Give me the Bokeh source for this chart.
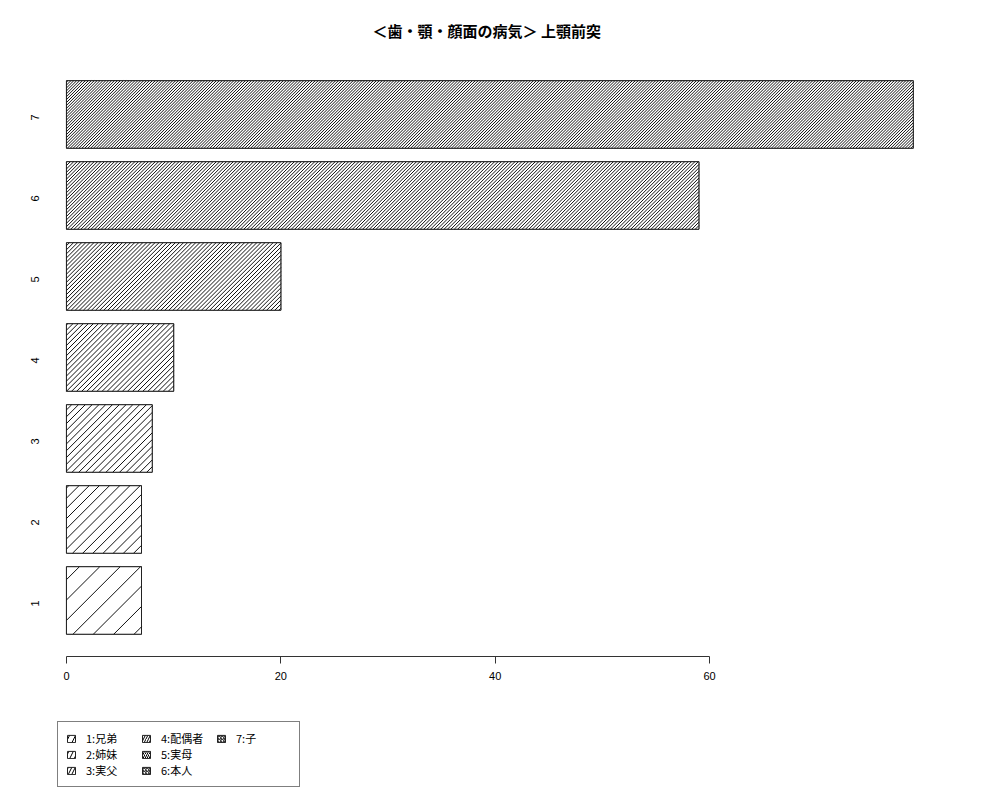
import math
from bokeh.plotting import figure
from bokeh.models import Range1d, FixedTicker, Legend, LegendItem
from bokeh.embed import file_html
from bokeh.resources import INLINE

# ---- data ----
categories = ["1", "2", "3", "4", "5", "6", "7"]
legend_labels = ["1:兄弟", "2:姉妹", "3:実父", "4:配偶者", "5:実母", "6:本人", "7:子"]
values = [7, 7, 8, 10, 20, 59, 79]
x_ticks = [0, 20, 40, 60]
title_text = "＜歯・顎・顔面の病気＞ 上顎前突"

# ---- style ----
densities = [5, 10, 15, 20, 25, 30, 35]          # hatch lines per inch (R "density")
legend_hatch_scales = [12, 9, 7, 5, 4, 3, 3]
positions = list(range(1, len(categories) + 1))
bar_h = 1 / 1.2
axis_y = 0.3086   # where the value axis sits (bottom of the bar area)

W, H = 992, 792
B_LEFT, B_RIGHT, B_TOP, B_BOTTOM = 56, 46, 58, 0
X0, X1 = -0.93, 82.1
Y0, Y1 = -1.3707, 7.691

p = figure(width=W, height=H, output_backend="svg", toolbar_location=None,
           x_range=Range1d(X0, X1), y_range=Range1d(Y0, Y1),
           min_border_left=B_LEFT, min_border_right=B_RIGHT,
           min_border_top=B_TOP, min_border_bottom=B_BOTTOM)

p.outline_line_color = None
p.xgrid.visible = False
p.ygrid.visible = False
p.background_fill_color = "white"
p.border_fill_color = "white"

# pixels per data unit (for 45° hatching in screen space)
sx = (W - B_LEFT - B_RIGHT) / (X1 - X0)
sy = (H - B_TOP - B_BOTTOM) / (Y1 - Y0)

# legend keys: hatched copies of each bar (covered by the bars drawn on top)
items = []
for pos, val, lab, hs in zip(positions, values, legend_labels, legend_hatch_scales):
    key = p.hbar(y=[pos], left=0, right=[val], height=bar_h,
                 fill_color="white", line_color="#222222", line_width=1,
                 hatch_pattern="/", hatch_color="black", hatch_weight=1, hatch_scale=hs)
    items.append(LegendItem(label=lab, renderers=[key]))

bars = p.hbar(y=positions, left=0, right=values, height=bar_h,
              fill_color="white", line_color="#222222", line_width=1)

# hatch lines computed from each bar's extent
hx0, hy0, hx1, hy1 = [], [], [], []
for pos, val, d in zip(positions, values, densities):
    hs = 72.0 / d * math.sqrt(2)          # horizontal spacing, px
    b, t = pos - bar_h / 2, pos + bar_h / 2
    cmin, cmax = -t * sy, val * sx - b * sy
    for k in range(math.ceil(cmin / hs), math.floor(cmax / hs) + 1):
        c = k * hs
        xa_ = max(0.0, (c + b * sy) / sx)
        xb_ = min(float(val), (c + t * sy) / sx)
        if xb_ > xa_:
            hx0.append(xa_); hy0.append((xa_ * sx - c) / sy)
            hx1.append(xb_); hy1.append((xb_ * sx - c) / sy)
p.segment(x0=hx0, y0=hy0, x1=hx1, y1=hy1, line_color="#111111", line_width=1)

legend = Legend(items=items, location=(1, 5), orientation="vertical", nrows=3,
                glyph_width=10, glyph_height=9, label_standoff=10, label_width=55,
                label_height=12, spacing=0, padding=8, margin=0,
                label_text_font="Noto Sans CJK JP", label_text_font_size="11px",
                label_text_color="black",
                border_line_color="black", border_line_width=1,
                background_fill_color="white", background_fill_alpha=1.0)
p.add_layout(legend, "center")

# x axis
xa = p.xaxis[0]
xa.fixed_location = axis_y
xa.ticker = FixedTicker(ticks=x_ticks)
xa.bounds = (x_ticks[0], x_ticks[-1])
xa.minor_tick_line_color = None
xa.major_tick_in = 0
xa.major_tick_out = 7
xa.axis_line_color = "#333333"
xa.major_tick_line_color = "#333333"
xa.major_label_standoff = 9
xa.major_label_text_font = "Liberation Sans"
xa.major_label_text_font_size = "11px"
xa.major_label_text_color = "black"

# y axis
ya = p.yaxis[0]
ya.ticker = FixedTicker(ticks=positions)
ya.major_label_overrides = {pos: c for pos, c in zip(positions, categories)}
ya.axis_line_color = None
ya.major_tick_line_color = None
ya.minor_tick_line_color = None
ya.major_tick_out = 0
ya.major_tick_in = 0
ya.major_label_orientation = math.pi / 2
ya.major_label_standoff = 21
ya.major_label_text_font = "Liberation Sans"
ya.major_label_text_font_size = "11px"
ya.major_label_text_color = "black"

# title
p.title.text = title_text
p.title.align = "left"
p.title.text_font = "Noto Sans CJK JP"
p.title.text_font_style = "bold"
p.title.text_font_size = "15px"
p.title.text_color = "black"
p.title.offset = 316
p.title.standoff = 35

open("out.html", "w").write(file_html(p, INLINE))
